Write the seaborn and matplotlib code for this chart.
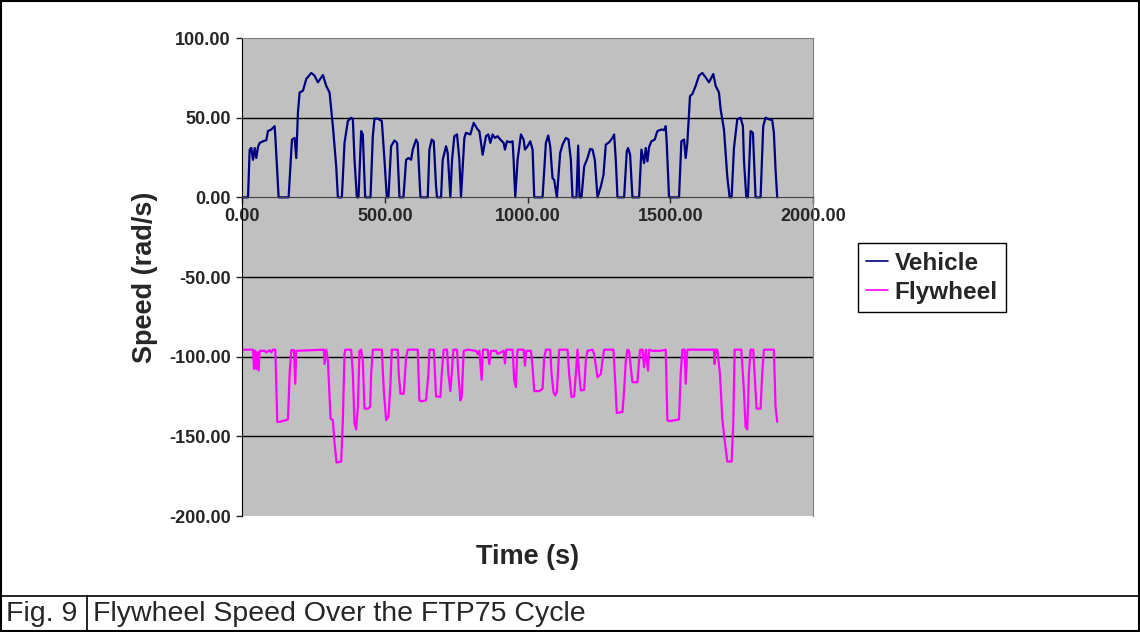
import matplotlib
matplotlib.use("Agg")
import matplotlib.pyplot as plt
from matplotlib.patches import Rectangle
from matplotlib.lines import Line2D
from matplotlib.ticker import FormatStrFormatter
import seaborn as sns

# --- data (time in s, speed in rad/s) ---
vehicle_t = [3.5, 21, 26.8, 32.6, 38.5, 44.3, 50.1, 56, 61.8, 73.4, 85.1, 90.9, 102.6, 114.2, 116.6,
             128.2, 163.2, 174.9, 184.2, 190, 195.8, 201.7, 213.3, 225, 242.5, 254.1, 265.8, 283.3,
             294.9, 306.6, 318.2, 329.9, 335.7, 349.7, 359, 370.7, 382.3, 388.2, 394, 402.2, 408,
             417.3, 423.1, 431.3, 450, 458.1, 464, 475.6, 489.6, 498.9, 507.1, 512.9, 522.2, 533.9,
             543.2, 551.4, 565.4, 574.7, 582.9, 592.2, 598, 609.7, 615.5, 624.8, 650.5, 656.3, 664.5,
             671.5, 679.6, 683.1, 697.1, 702.9, 714.6, 720.4, 729.7, 735.6, 743.7, 753.1, 761.2, 767,
             778.7, 784.5, 799.7, 811.3, 825.3, 831.2, 842.8, 854.5, 862.6, 869.6, 877.8, 885.9,
             895.3, 904.6, 916.2, 920.9, 927.9, 939.6, 947.7, 951.2, 957, 965.2, 976.9, 986.2, 990.9,
             1000.2, 1009.5, 1017.7, 1023.5, 1052.6, 1064.3, 1072.4, 1079.4, 1087.6, 1093.4, 1102.8,
             1114.4, 1122.6, 1134.2, 1143.6, 1151.7, 1157.5, 1171.5, 1177.4, 1182, 1189, 1198.4,
             1210, 1219.3, 1227.5, 1235.7, 1245, 1256.7, 1266, 1274.1, 1285.8, 1297.5, 1303.3,
             1309.1, 1315, 1338.3, 1347.6, 1352.2, 1359.2, 1367.4, 1390.7, 1398.9, 1408.2, 1414,
             1419.9, 1425.7, 1433.8, 1445.5, 1454.8, 1468.8, 1478.1, 1484, 1487.5, 1495.6, 1530.6,
             1538.8, 1548.1, 1553.9, 1559.7, 1569.1, 1577.2, 1588.9, 1600.5, 1612.2, 1623.9, 1635.5,
             1650.7, 1658.8, 1670.5, 1676.3, 1688, 1699.6, 1707.8, 1714.8, 1723, 1734.6, 1746.3,
             1754.4, 1757.9, 1766.1, 1771.9, 1781.2, 1789.4, 1798.7, 1816.2, 1825.5, 1833.7, 1845.3,
             1857, 1862.8, 1868.7, 1874.5]
vehicle_speed = [0, 0, 30, 31, 23.6, 31, 24.7, 31.6, 34.2, 35.2, 35.9, 41.6, 42.6, 44.7, 38.4,
                 0, 0, 36.3, 37.3, 24.7, 53.2, 65.8, 66.9, 74.3, 78.1, 76.4, 72.2, 76.8,
                 70, 65.8, 44.7, 19.4, 0, 0, 34.2, 47.9, 50, 49, 23.6, 0, 0,
                 41.6, 39.5, 0, 0, 38.4, 49.4, 49.4, 47.9, 23.6, 0, 0, 32.1, 35.7,
                 34.2, 0, 0, 23.6, 24.7, 23.6, 30, 36.3, 34.2, 0, 0, 30, 36.3,
                 35.2, 6.8, 0, 0, 23.6, 32.1, 27.9, 0, 23.6, 38.4, 39.5, 23.6, 0,
                 37.3, 40.5, 39.5, 46.8, 42.6, 41.6, 26.8, 38.4, 39.5, 34.2, 39.5, 37.3,
                 38.4, 36.3, 34.2, 30, 35.2, 34.6, 35.2, 23.6, 0, 23.6, 39.5, 36.3, 30,
                 32.1, 35.2, 30, 0, 0, 34.2, 38.8, 32.1, 12, 11, 0,
                 27.9, 33.1, 37.3, 36.3, 23.6, 0, 0, 32.5, 0, 0, 19.4,
                 24.7, 30.4, 30, 23.6, 0, 6.8, 14.1, 33.1, 34.6, 37.3, 39.5,
                 23.6, 0, 0, 28.9, 31, 26.8, 0, 0, 30, 21.5, 31,
                 22.6, 31.6, 35.2, 36.3, 41.6, 42.6, 42.2, 44.7, 34.2, 0, 0,
                 35.2, 36.3, 24.7, 34.2, 63.7, 64.8, 70, 76.4, 78.1, 75.3, 72.2,
                 77.4, 70, 65.8, 55.3, 42.6, 13.1, 0, 0, 31, 49, 50,
                 44.7, 23.6, 0, 0, 41.6, 40.5, 0, 0, 44.7, 50, 49,
                 48.5, 40.5, 17.3, 0]

flywheel_t = [3.5, 38.5, 42, 46.6, 50.1, 53.6, 58.3, 61.8, 79.3, 85.1, 96.8, 102.6, 108.4, 116.6,
              123.6, 131.7, 160.9, 166.7, 172.5, 181.8, 186.5, 190, 286.8, 289.1, 294.9, 300.8,
              310.1, 318.2, 324.1, 331.1, 347.4, 353.2, 359, 361.4, 382.3, 388.2, 394, 399.8, 405.7,
              411.5, 417.3, 423.1, 429, 440.6, 448.8, 452.3, 458.1, 489.6, 496.6, 504.8, 512.9,
              519.9, 524.6, 545.5, 549, 554.9, 566.5, 574.7, 580.5, 615.5, 621.3, 627.2, 644.6,
              652.8, 656.3, 671.5, 673.8, 679.6, 694.8, 699.4, 706.4, 718.1, 722.7, 729.7, 734.4,
              740.2, 753.1, 757.7, 764.7, 769.4, 776.4, 790.4, 819.5, 825.3, 831.2, 839.3, 844,
              860.3, 866.1, 872, 889.4, 895.3, 916.2, 920.9, 925.6, 947.7, 953.5, 959.4, 962.9,
              965.2, 986.2, 990.9, 995.5, 1011.8, 1017.7, 1023.5, 1041, 1052.6, 1058.5, 1064.3,
              1079.4, 1084.1, 1091.1, 1096.9, 1102.8, 1110.9, 1140.1, 1145.9, 1154, 1163.4, 1169.2,
              1175, 1180.9, 1186.7, 1198.4, 1204.2, 1210, 1227.5, 1233.3, 1245, 1256.7, 1262.5,
              1268.3, 1301, 1305.6, 1312.6, 1332.4, 1338.3, 1344.1, 1349.9, 1355.7, 1361.6, 1367.4,
              1384.9, 1390.7, 1394.2, 1402.4, 1408.2, 1414, 1422.2, 1425.7, 1437.3, 1466.5, 1484,
              1489.8, 1495.6, 1530.6, 1536.4, 1542.3, 1550.4, 1553.9, 1559.7, 1653, 1655.3, 1658.8,
              1664.7, 1674, 1682.1, 1690.3, 1699.6, 1714.8, 1720.6, 1725.3, 1748.6, 1757.9, 1763.7,
              1769.6, 1775.4, 1781.2, 1790.5, 1795.2, 1802.2, 1816.2, 1822, 1827.9, 1862.8, 1868.7,
              1874.5]
flywheel_speed = [-95.6, -95.6, -107.7, -96.3, -107.7, -97.3, -108.7, -96.3, -96.3, -97.3, -95.9, -97.3, -95.6, -95.6,
                  -140.9, -140.9, -139.4, -110.8, -95.9, -95.9, -117, -96.3, -95.6, -104.6, -95.6, -102.5,
                  -138.8, -139.8, -154.4, -166.4, -165.8, -139.8, -98.3, -95.6, -95.6, -110.8, -141.9, -145.7, -131.5,
                  -96.3, -95.6, -102.5, -132.6, -132.6, -131.5, -110.8, -95.6, -95.6, -121.2, -139.8, -137.8,
                  -117, -95.6, -95.6, -110.8, -123.2, -123.2, -100.4, -95.6, -95.6, -127.4, -128, -127.4,
                  -110.8, -95.6, -95.6, -102.5, -124.9, -125.3, -110.8, -95.6, -95.6, -110.8, -121.6, -110.8,
                  -95.6, -95.6, -110.8, -127.4, -125.3, -96.3, -95.6, -96.3, -98.3, -96.3, -114.5, -95.6,
                  -95.6, -104.6, -96.3, -96.3, -98.3, -96.3, -104.2, -95.6, -95.6, -114.9, -119.1, -100.4,
                  -95.6, -95.6, -105.6, -96.3, -96.3, -106.6, -121.6, -121.6, -120.1, -100.4, -95.6,
                  -95.6, -110.8, -122.2, -124.3, -122.2, -95.6, -95.6, -110.8, -125.3, -124.9, -110.8,
                  -95.6, -110.8, -121.2, -120.8, -102.5, -96.3, -95.6, -98.3, -112.9, -110.8, -102.5,
                  -95.6, -95.6, -110.8, -135.3, -134.7, -121.2, -102.5, -95.6, -96.3, -106.6, -116,
                  -116, -102.5, -95.6, -95.6, -106.6, -95.6, -108.7, -95.6, -96.3, -96.3, -95.6,
                  -139.8, -140.5, -139.4, -110.8, -95.6, -95.6, -117, -95.6, -95.6, -104.6, -95.6,
                  -95.6, -110.8, -138.8, -152.3, -165.8, -165.8, -141.9, -95.6, -95.6, -121.2, -144,
                  -145.7, -110.8, -95.6, -95.6, -110.8, -132.6, -132.6, -110.8, -95.6, -95.6, -131.5,
                  -140.9]

x_ticks = [0, 500, 1000, 1500, 2000]
y_ticks = [-200, -150, -100, -50, 0, 50, 100]
series_names = ["Vehicle", "Flywheel"]
series_colors = ["#000080", "#FF00FF"]
caption_num = "Fig. 9"
caption_text = "Flywheel Speed Over the FTP75 Cycle"

sns.set_style("ticks")
plt.rcParams["font.family"] = ["Liberation Sans", "DejaVu Sans"]

fig = plt.figure(figsize=(11.4, 6.32), dpi=100)
ax = fig.add_axes([0.2123, 0.1835, 0.5009, 0.7563])
ax.set_facecolor("#C0C0C0")

sns.lineplot(x=vehicle_t, y=vehicle_speed, ax=ax, color=series_colors[0], lw=1.6,
             label=series_names[0], estimator=None, sort=False)
sns.lineplot(x=flywheel_t, y=flywheel_speed, ax=ax, color=series_colors[1], lw=1.6,
             label=series_names[1], estimator=None, sort=False)

ax.set_xlim(0, 2000)
ax.set_ylim(-200, 100)
ax.set_xticks(x_ticks)
ax.set_yticks(y_ticks)
ax.xaxis.set_major_formatter(FormatStrFormatter("%.2f"))
ax.yaxis.set_major_formatter(FormatStrFormatter("%.2f"))
for yv in [50, -50, -100, -150]:
    ax.axhline(yv, color="black", lw=1.0, zorder=1)

ax.spines["bottom"].set_position(("data", 0))
ax.spines["bottom"].set_color("#404040")
ax.spines["left"].set_color("black")
for s in ["top", "right"]:
    ax.spines[s].set_visible(True)
    ax.spines[s].set_color("#808080")
ax.tick_params(axis="both", direction="out", length=4, width=1, labelsize=13, pad=4)
for lab in ax.get_xticklabels() + ax.get_yticklabels():
    lab.set_fontweight("bold")

ax.set_xlabel("Time (s)", fontsize=19.5, fontweight="bold")
ax.set_ylabel("Speed (rad/s)", fontsize=19.5, fontweight="bold")
ax.xaxis.set_label_coords(0.5, -0.058)
ax.yaxis.set_label_coords(-0.148, 0.5)

ax.legend_.remove()
handles = [Line2D([0], [0], color=c, lw=1.2) for c in series_colors]
leg = fig.legend(handles, series_names, loc="upper left", bbox_to_anchor=(0.7526, 0.6155),
                 frameon=True, fancybox=False, edgecolor="black", framealpha=1,
                 prop={"weight": "bold", "size": 17.5}, handlelength=0.9, handletextpad=0.25,
                 borderpad=0.35, labelspacing=0.25, borderaxespad=0)
leg.get_frame().set_linewidth(1.0)

# outer frame and caption row
fig.add_artist(Rectangle((0.0009, 0.0016), 0.9982, 0.9968, transform=fig.transFigure,
                         fill=False, edgecolor="black", lw=1.5))
fig.add_artist(Line2D([0, 1], [0.057, 0.057], transform=fig.transFigure, color="black", lw=1.2))
fig.add_artist(Line2D([0.0763, 0.0763], [0, 0.057], transform=fig.transFigure, color="black", lw=1.2))
fig.text(0.005, 0.028, caption_num, fontsize=20.5, va="center", ha="left")
fig.text(0.082, 0.028, caption_text, fontsize=20.5, va="center", ha="left")

fig.savefig("out.png", dpi=100)
